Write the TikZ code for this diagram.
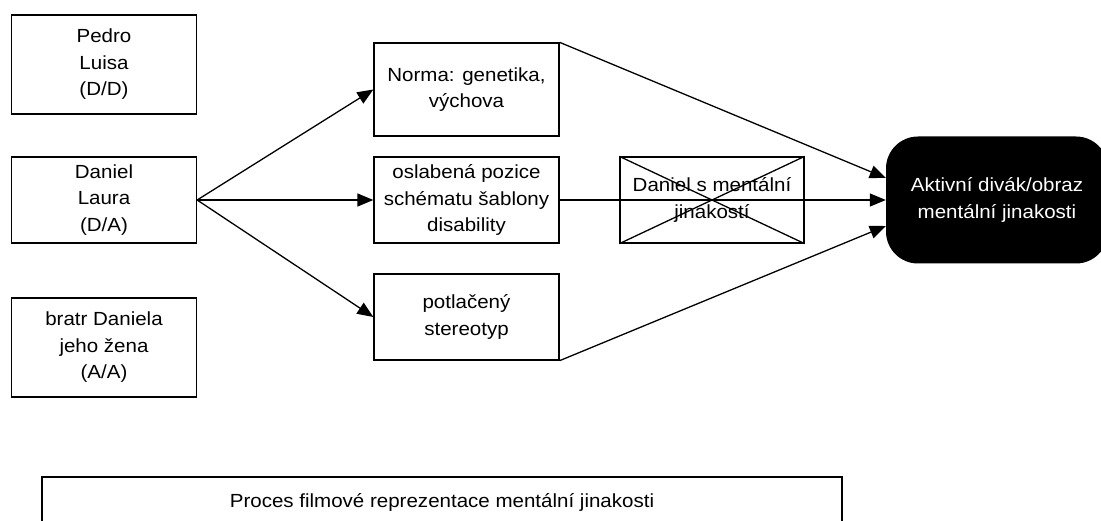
\documentclass[tikz,border=0pt]{standalone}
\usepackage{fontspec}
\setmainfont{Liberation Sans}[FakeStretch=1.08]
\usetikzlibrary{arrows.meta,calc}

\tikzset{
  txt/.style={font=\fontsize{19}{26.5}\selectfont, align=center, inner sep=0pt},
  box/.style={txt, draw, line width=1.3pt, rectangle},
  link/.style={line width=1.3pt},
  arr/.style={link, -{Triangle[length=16pt,width=13pt]}},
  goal/.style={txt, fill=black, text=white, rounded corners=32pt,
    minimum width=222pt, minimum height=127pt}
}

\begin{document}
\begin{tikzpicture}[x=1pt, y=-1pt]
  \useasboundingbox (0,0) rectangle (1101,521);

  % couples on the left
  \node[box, minimum width=185pt, minimum height=99pt] (pedro) at (104,64.5) {Pedro\\Luisa\\(D/D)};
  \node[box, minimum width=185pt, minimum height=86pt] (daniel) at (104,200) {Daniel\\Laura\\(D/A)};
  \node[box, minimum width=185pt, minimum height=99pt] (bratr) at (104,347.5) {bratr Daniela\\jeho žena\\(A/A)};

  % middle column
  \node[box, minimum width=185pt, minimum height=93pt] (norma) at (466.5,89.5) {Norma: genetika,\\výchova};
  \node[box, minimum width=185pt, minimum height=86pt] (oslab) at (466.5,200) {oslabená pozice\\schématu šablony\\disability};
  \node[box, minimum width=185pt, minimum height=86pt] (potlac) at (466.5,317) {potlačený\\stereotyp};

  % target
  \node[goal] (aktiv) at (997,200) {Aktivní divák/obraz\\mentální jinakosti};
  \coordinate (inA) at ($(aktiv.west)+(0,-22)$);
  \coordinate (inB) at (oslab.east -| aktiv.west);
  \coordinate (inC) at ($(aktiv.west)+(0,26)$);

  % arrows out of Daniel / Laura
  \draw[arr] (daniel.east) -- (norma.west);
  \draw[arr] (daniel.east) -- (oslab.west);
  \draw[arr] (daniel.east) -- (potlac.west);

  % arrows into the target
  \draw[arr] (norma.north east) -- (inA);
  \draw[arr] (oslab.east) -- (inB);
  \draw[arr] (potlac.south east) -- (inC);

  % crossed-out box
  \node[box, minimum width=184pt, minimum height=86pt] (cross) at (712,200) {Daniel s mentální\\jinakostí};
  \draw[link] (cross.north west) -- (cross.south east);
  \draw[link] (cross.south west) -- (cross.north east);

  % caption box
  \node[box, minimum width=800pt, minimum height=50pt] (proces) at (442,502) {Proces filmové reprezentace mentální jinakosti};
\end{tikzpicture}
\end{document}
